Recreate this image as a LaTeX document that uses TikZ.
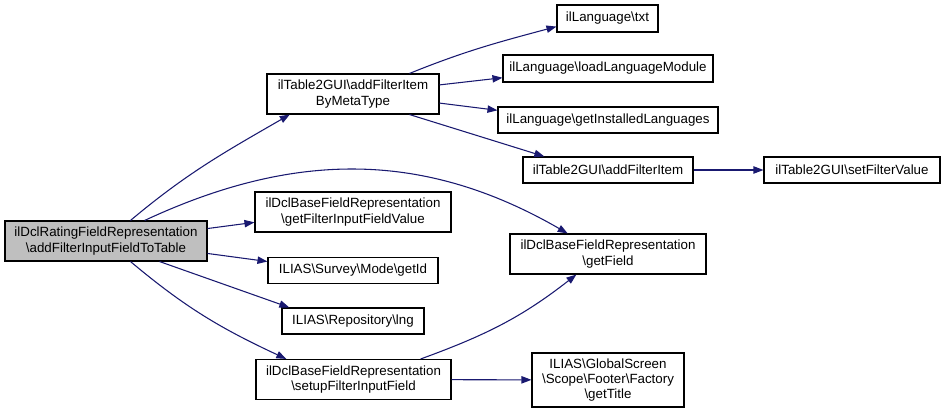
\documentclass[tikz,border=0pt]{standalone}
\usepackage{fontspec}
\setmainfont{Liberation Sans}
\usepackage{tikz}
\usetikzlibrary{arrows.meta}

\definecolor{edgeblue}{RGB}{25,25,112}
\definecolor{rootgray}{RGB}{191,191,191}
\newcommand{\pxu}{0.75pt}

\begin{document}
\begin{tikzpicture}[x=0.75pt,y=-0.75pt]
        \tikzstyle{every node}+=[inner sep=0pt]
        \tikzstyle{fn}=[draw=black, line width=0.8pt, align=center, font=\fontsize{10}{11.5}\selectfont]
        \tikzstyle{call}=[draw=edgeblue, line width=0.8pt, -{Triangle[length=7.5pt,width=5.5pt]}, fill=none]
        \useasboundingbox (0,0) rectangle (945,413);
        % nodes
        \node [fn, fill=rootgray, minimum width=202*\pxu, minimum height=40*\pxu] (root) at (106,241) {ilDclRatingFieldRepresentation\\\textbackslash addFilterInputFieldToTable};
        \node [fn, minimum width=172*\pxu, minimum height=40*\pxu] (meta) at (353,94) {ilTable2GUI\textbackslash addFilterItem\\ByMetaType};
        \node [fn, minimum width=196*\pxu, minimum height=40*\pxu] (value) at (353,212) {ilDclBaseFieldRepresentation\\\textbackslash getFilterInputFieldValue};
        \node [fn, minimum width=170*\pxu, minimum height=26*\pxu] (getid) at (353,270.5) {ILIAS\textbackslash Survey\textbackslash Mode\textbackslash getId};
        \node [fn, minimum width=142*\pxu, minimum height=26*\pxu] (lng) at (353,321) {ILIAS\textbackslash Repository\textbackslash lng};
        \node [fn, minimum width=195*\pxu, minimum height=40*\pxu] (setup) at (353.5,379.5) {ilDclBaseFieldRepresentation\\\textbackslash setupFilterInputField};
        \node [fn, minimum width=101*\pxu, minimum height=27*\pxu] (txt) at (607.5,18.5) {ilLanguage\textbackslash txt};
        \node [fn, minimum width=210*\pxu, minimum height=27*\pxu] (load) at (608,68.5) {ilLanguage\textbackslash loadLanguageModule};
        \node [fn, minimum width=220*\pxu, minimum height=26*\pxu] (inst) at (608,120) {ilLanguage\textbackslash getInstalledLanguages};
        \node [fn, minimum width=170*\pxu, minimum height=26*\pxu] (item) at (608,170) {ilTable2GUI\textbackslash addFilterItem};
        \node [fn, minimum width=176*\pxu, minimum height=26*\pxu] (setval) at (852,170) {ilTable2GUI\textbackslash setFilterValue};
        \node [fn, minimum width=196*\pxu, minimum height=40*\pxu] (field) at (608,254) {ilDclBaseFieldRepresentation\\\textbackslash getField};
        \node [fn, minimum width=152*\pxu, minimum height=54*\pxu] (title) at (608,380) {ILIAS\textbackslash GlobalScreen\\\textbackslash Scope\textbackslash Footer\textbackslash Factory\\\textbackslash getTitle};
        % calls
        \draw [call] (root.40) to[out=40, in=210] (meta.198);
        \draw [call] (root.28) to[out=25, in=150] (field.153);
        \draw [call] (root.7) -- (value.186);
        \draw [call] (root.-7) -- (getid.174);
        \draw [call] (root.-21) -- (lng.168);
        \draw [call] (root.-40) to[out=-40, in=155] (setup.163);
        \draw [call] (meta.20) to[out=22, in=195] (txt.189);
        \draw [call] (meta.6) -- (load.185);
        \draw [call] (meta.-6) -- (inst.175);
        \draw [call] (meta.-20) -- (item.168);
        \draw [call] (item) -- (setval);
        \draw [call] (setup.17) to[out=20, in=218] (field.213);
        \draw [call] (setup) -- (title);
      \end{tikzpicture}
\end{document}
